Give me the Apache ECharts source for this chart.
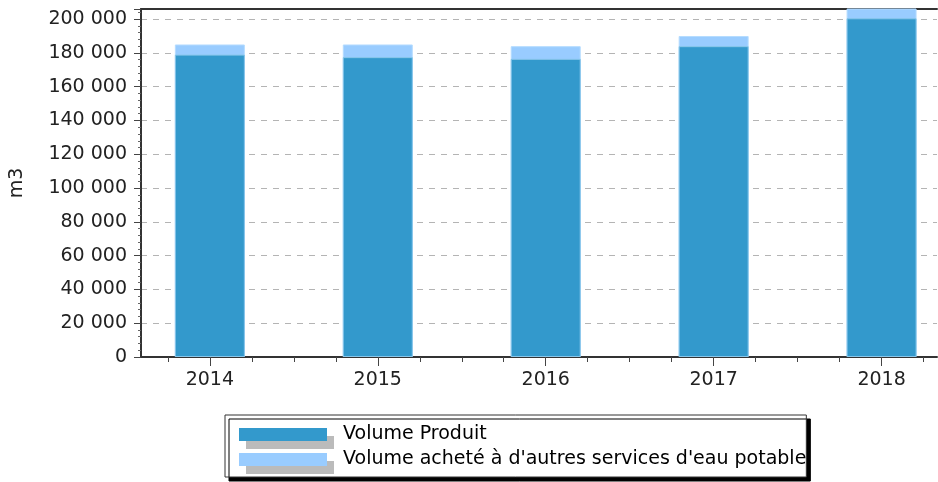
<!DOCTYPE html>
<html>
<head>
<meta charset="utf-8">
<script src="https://cdn.jsdelivr.net/npm/echarts@6/dist/echarts.min.js"></script>
<style>
html,body{margin:0;padding:0;background:#fff;}
#chart{width:938px;height:482px;}
</style>
</head>
<body>
<div id="chart"></div>
<script>
const categories = ['2014', '2015', '2016', '2017', '2018'];
const seriesNames = ['Volume Produit', "Volume acheté à d'autres services d'eau potable"];
const volumeProduit = [179000, 177500, 176500, 184000, 200500];
const volumeAchete = [6000, 7500, 7500, 6000, 7000];
const yAxisName = 'm3';
const yStep = 20000;

const fmt = v => String(v).replace(/\B(?=(\d{3})+(?!\d))/g, ' ');
const font = 'DejaVu Sans';

// stacked tops (produit + acheté) drawn behind the produit bars
const totals = volumeProduit.map((v, i) => v + volumeAchete[i]);

const xMin = -0.41, xMax = 4.33;
const majorTicks = categories.map((c, i) => i);
const minorTicks = [];
for (let i = -1; i <= categories.length; i++) {
  [0.25, 0.5, 0.75].forEach(f => { const v = i + f; if (v > xMin && v < xMax) minorTicks.push(v); });
}

const chart = echarts.init(document.getElementById('chart'));
chart.setOption({
  animation: false,
  backgroundColor: '#fff',
  grid: {
    left: 141, top: 9, right: 1, bottom: 125, outerBoundsMode: 'none'
  },
  xAxis: [{
    type: 'value', min: xMin, max: xMax,
    splitLine: { show: false },
    axisLine: { show: true, onZero: false, lineStyle: { color: '#333', width: 2 } },
    axisTick: { show: true, customValues: majorTicks, length: 9, lineStyle: { color: '#444', width: 1 } },
    axisLabel: {
      customValues: majorTicks, margin: 14,
      formatter: v => categories[Math.round(v)] || '',
      color: '#222', fontFamily: font, fontSize: 19
    }
  }, {
    type: 'value', min: xMin, max: xMax, position: 'bottom',
    splitLine: { show: false },
    axisLine: { show: false, onZero: false },
    axisTick: { show: true, customValues: minorTicks, length: 5, lineStyle: { color: '#444', width: 1 } },
    axisLabel: { show: false }
  }, {
    type: 'value', min: xMin, max: xMax, position: 'top',
    splitLine: { show: false },
    axisLine: { show: true, onZero: false, lineStyle: { color: '#333', width: 2 } },
    axisTick: { show: false },
    axisLabel: { show: false }
  }],
  yAxis: {
    type: 'value', min: 0, max: 206000, interval: yStep,
    name: yAxisName, nameLocation: 'middle', nameGap: 114, nameRotate: 90,
    nameTextStyle: { color: '#222', fontFamily: font, fontSize: 19 },
    axisLine: { show: true, onZero: false, lineStyle: { color: '#333', width: 2 } },
    axisTick: { show: true, length: 7, lineStyle: { color: '#444' } },
    minorTick: { show: true, splitNumber: 5, length: 3, lineStyle: { color: '#666' } },
    axisLabel: {
      margin: 14, color: '#222', fontFamily: font, fontSize: 19,
      formatter: v => (v % yStep === 0 ? fmt(v) : '')
    },
    splitLine: { show: true, lineStyle: { color: '#b4b4b4', type: [6, 6], width: 1 } }
  },
  legend: {
    orient: 'vertical', left: 225, top: 415,
    padding: [10, 0, 8, 14], itemGap: 6,
    itemWidth: 88, itemHeight: 13, icon: 'rect',
    backgroundColor: '#fff', borderColor: '#333', borderWidth: 1,
    shadowColor: '#000', shadowOffsetX: 4, shadowOffsetY: 4, shadowBlur: 0,
    itemStyle: { borderWidth: 0, shadowColor: '#bbb', shadowOffsetX: 7, shadowOffsetY: 8, shadowBlur: 0 },
    textStyle: { color: '#000', fontFamily: font, fontSize: 19, padding: [0, 0, 0, 11] },
    data: seriesNames
  },
  series: [{
    name: seriesNames[1], type: 'bar', barWidth: 70, barGap: '-100%', z: 1,
    itemStyle: { color: '#99ccff', borderColor: '#b5dcff', borderWidth: 1 },
    data: categories.map((c, i) => [i, totals[i]])
  }, {
    name: seriesNames[0], type: 'bar', barWidth: 70, barGap: '-100%', z: 2,
    itemStyle: { color: '#3399cc', borderColor: '#88c6ea', borderWidth: 1 },
    data: categories.map((c, i) => [i, volumeProduit[i]])
  }]
});
</script>
</body>
</html>
